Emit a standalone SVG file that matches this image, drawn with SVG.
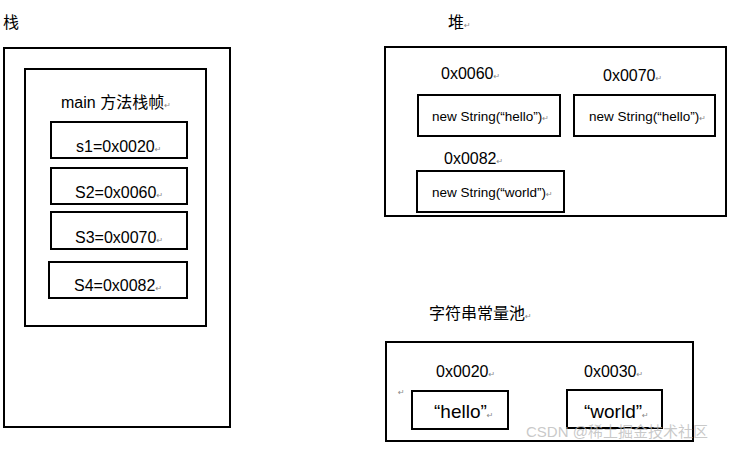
<svg xmlns="http://www.w3.org/2000/svg" width="742" height="451" viewBox="0 0 742 451">
<style>
.b{fill:none;stroke:#000;stroke-width:2}
.t{font-family:"Liberation Sans","Noto Sans CJK SC",sans-serif;font-size:16px;fill:#000}
.s{font-family:"Liberation Sans","Noto Sans CJK SC",sans-serif;font-size:13.5px;fill:#000}
.q{font-family:"Liberation Sans","Noto Sans CJK SC",sans-serif;font-size:19px;fill:#000}
.c{font-family:"Noto Sans CJK SC","Liberation Sans",sans-serif;font-size:16px;fill:#000}
.m{font-family:"DejaVu Sans",sans-serif;font-size:8px;fill:#888}
</style>
<rect width="742" height="451" fill="#fff"/>
<g id="stack">
<text class="c" x="3" y="28">栈</text>
<rect class="b" x="4" y="48" width="226" height="379"/>
</g>
<g id="main-frame">
<rect class="b" x="25" y="69" width="181" height="257"/>
<text class="t" x="61" y="108">main <tspan class="c">方法栈帧</tspan><tspan class="m">↵</tspan></text>
</g>
<g id="s1">
<rect class="b" x="51" y="122" width="136" height="36"/>
<text class="t" x="76" y="152">s1=0x0020<tspan class="m">↵</tspan></text>
</g>
<g id="s2">
<rect class="b" x="51" y="168" width="136" height="36"/>
<text class="t" x="75" y="198">S2=0x0060<tspan class="m">↵</tspan></text>
</g>
<g id="s3">
<rect class="b" x="51" y="212" width="136" height="37"/>
<text class="t" x="75" y="243">S3=0x0070<tspan class="m">↵</tspan></text>
</g>
<g id="s4">
<rect class="b" x="49" y="262" width="138" height="36"/>
<text class="t" x="74" y="291">S4=0x0082<tspan class="m">↵</tspan></text>
</g>
<g id="heap">
<text class="c" x="448" y="28">堆<tspan class="m">↵</tspan></text>
<rect class="b" x="385" y="47" width="341" height="169"/>
</g>
<g id="heap-0060">
<text class="t" x="441" y="79">0x0060<tspan class="m">↵</tspan></text>
<rect class="b" x="418" y="95" width="142" height="41"/>
<text class="s" x="432" y="121">new String(“hello”)<tspan class="m">↵</tspan></text>
</g>
<g id="heap-0070">
<text class="t" x="603" y="81">0x0070<tspan class="m">↵</tspan></text>
<rect class="b" x="574" y="95" width="141" height="41"/>
<text class="s" x="589" y="121">new String(“hello”)<tspan class="m">↵</tspan></text>
</g>
<g id="heap-0082">
<text class="t" x="444" y="164">0x0082<tspan class="m">↵</tspan></text>
<rect class="b" x="417" y="171" width="147" height="41"/>
<text class="s" x="432" y="197">new String(“world”)<tspan class="m">↵</tspan></text>
</g>
<g id="pool">
<text class="c" x="429" y="319">字符串常量池<tspan class="m">↵</tspan></text>
<rect class="b" x="386" y="342" width="307" height="99"/>
<text class="m" x="398" y="395">↵</text>
</g>
<g id="pool-0020">
<text class="t" x="436" y="377">0x0020<tspan class="m">↵</tspan></text>
<rect class="b" x="412" y="391" width="96" height="38"/>
<text class="q" x="434" y="418">“hello”<tspan class="m">↵</tspan></text>
</g>
<g id="pool-0030">
<text class="t" x="584" y="377">0x0030<tspan class="m">↵</tspan></text>
<rect class="b" x="567" y="390" width="95" height="38"/>
<text class="q" x="584" y="418">“world”<tspan class="m">↵</tspan></text>
</g>
<g id="connectors"></g>
<text x="526" y="437" font-family="Liberation Sans,Noto Sans CJK SC,sans-serif" font-size="15" fill="#bbb" fill-opacity="0.8">CSDN @稀土掘金技术社区</text>
</svg>
